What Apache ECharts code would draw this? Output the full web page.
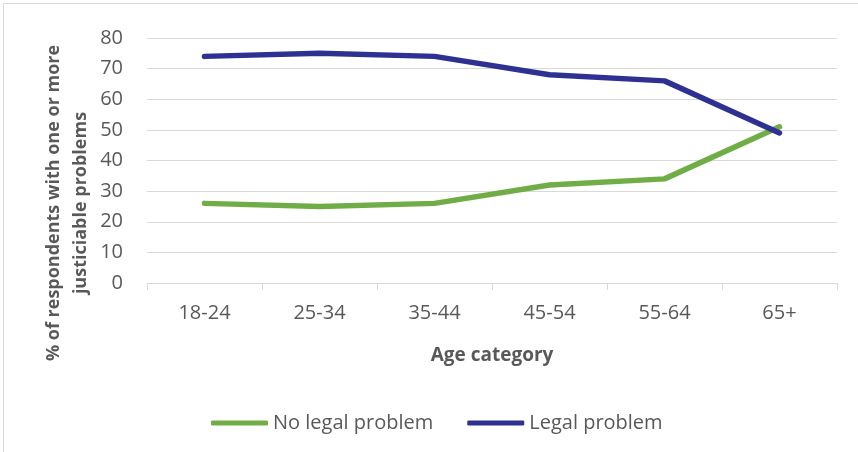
<!DOCTYPE html>
<html>
<head>
<meta charset="utf-8">
<script src="https://cdn.jsdelivr.net/npm/echarts@6/dist/echarts.min.js"></script>
<style>html,body{margin:0;padding:0;background:#fff}#c{width:858px;height:452px}</style>
</head>
<body>
<div id="c"></div>
<script>
const categories = ['18-24', '25-34', '35-44', '45-54', '55-64', '65+'];
const noLegalProblem = [26, 25, 26, 32, 34, 51];
const legalProblem = [74, 75, 74, 68, 66, 49];
const yTicks = { min: 0, max: 80, interval: 10 };

const FONT = '"Open Sans", sans-serif';
const TXT = '#595959';
const GRID = '#d9d9d9';

const chart = echarts.init(document.getElementById('c'), null, { renderer: 'canvas' });
chart.setOption({
  animation: false,
  backgroundColor: '#fff',
  grid: { left: 147, right: 21, top: 38, bottom: 169 },
  xAxis: {
    type: 'category',
    data: categories,
    boundaryGap: true,
    axisLine: { lineStyle: { color: GRID, width: 1 } },
    axisTick: { show: true, length: 7, lineStyle: { color: GRID } },
    axisLabel: { color: TXT, fontFamily: FONT, fontSize: 20, margin: 20 },
    name: 'Age category',
    nameLocation: 'middle',
    nameGap: 63,
    nameTextStyle: { color: TXT, fontFamily: FONT, fontSize: 19, fontWeight: 'bold' }
  },
  yAxis: {
    type: 'value',
    min: yTicks.min, max: yTicks.max, interval: yTicks.interval,
    axisLine: { show: false },
    axisTick: { show: false },
    axisLabel: { color: TXT, fontFamily: FONT, fontSize: 20, margin: 24 },
    splitLine: { lineStyle: { color: GRID, width: 1 } }
  },
  legend: {
    left: 206, top: 408,
    icon: 'roundRect',
    itemWidth: 57, itemHeight: 5,
    itemGap: 34,
    textStyle: { color: TXT, fontFamily: FONT, fontSize: 20 },
    data: ['No legal problem', 'Legal problem']
  },
  graphic: [
    {
      type: 'rect', silent: true,
      shape: { x: 3.5, y: 3.5, width: 900, height: 500 },
      style: { fill: 'none', stroke: GRID, lineWidth: 1 }
    },
    {
      type: 'text', silent: true,
      x: 67, y: 203, rotation: Math.PI / 2,
      style: {
        text: '% of respondents with one or more\njusticiable problems',
        fill: TXT, font: 'bold 18px "Open Sans", sans-serif',
        align: 'center', verticalAlign: 'middle', lineHeight: 27
      }
    }
  ],
  series: [
    {
      name: 'No legal problem', type: 'line', data: noLegalProblem,
      symbol: 'none', smooth: false, color: '#70ad47',
      lineStyle: { width: 5.5, color: '#70ad47', cap: 'round', join: 'round' }
    },
    {
      name: 'Legal problem', type: 'line', data: legalProblem,
      symbol: 'none', smooth: false, color: '#2e3192',
      lineStyle: { width: 5.5, color: '#2e3192', cap: 'round', join: 'round' }
    }
  ]
});
</script>
</body>
</html>
